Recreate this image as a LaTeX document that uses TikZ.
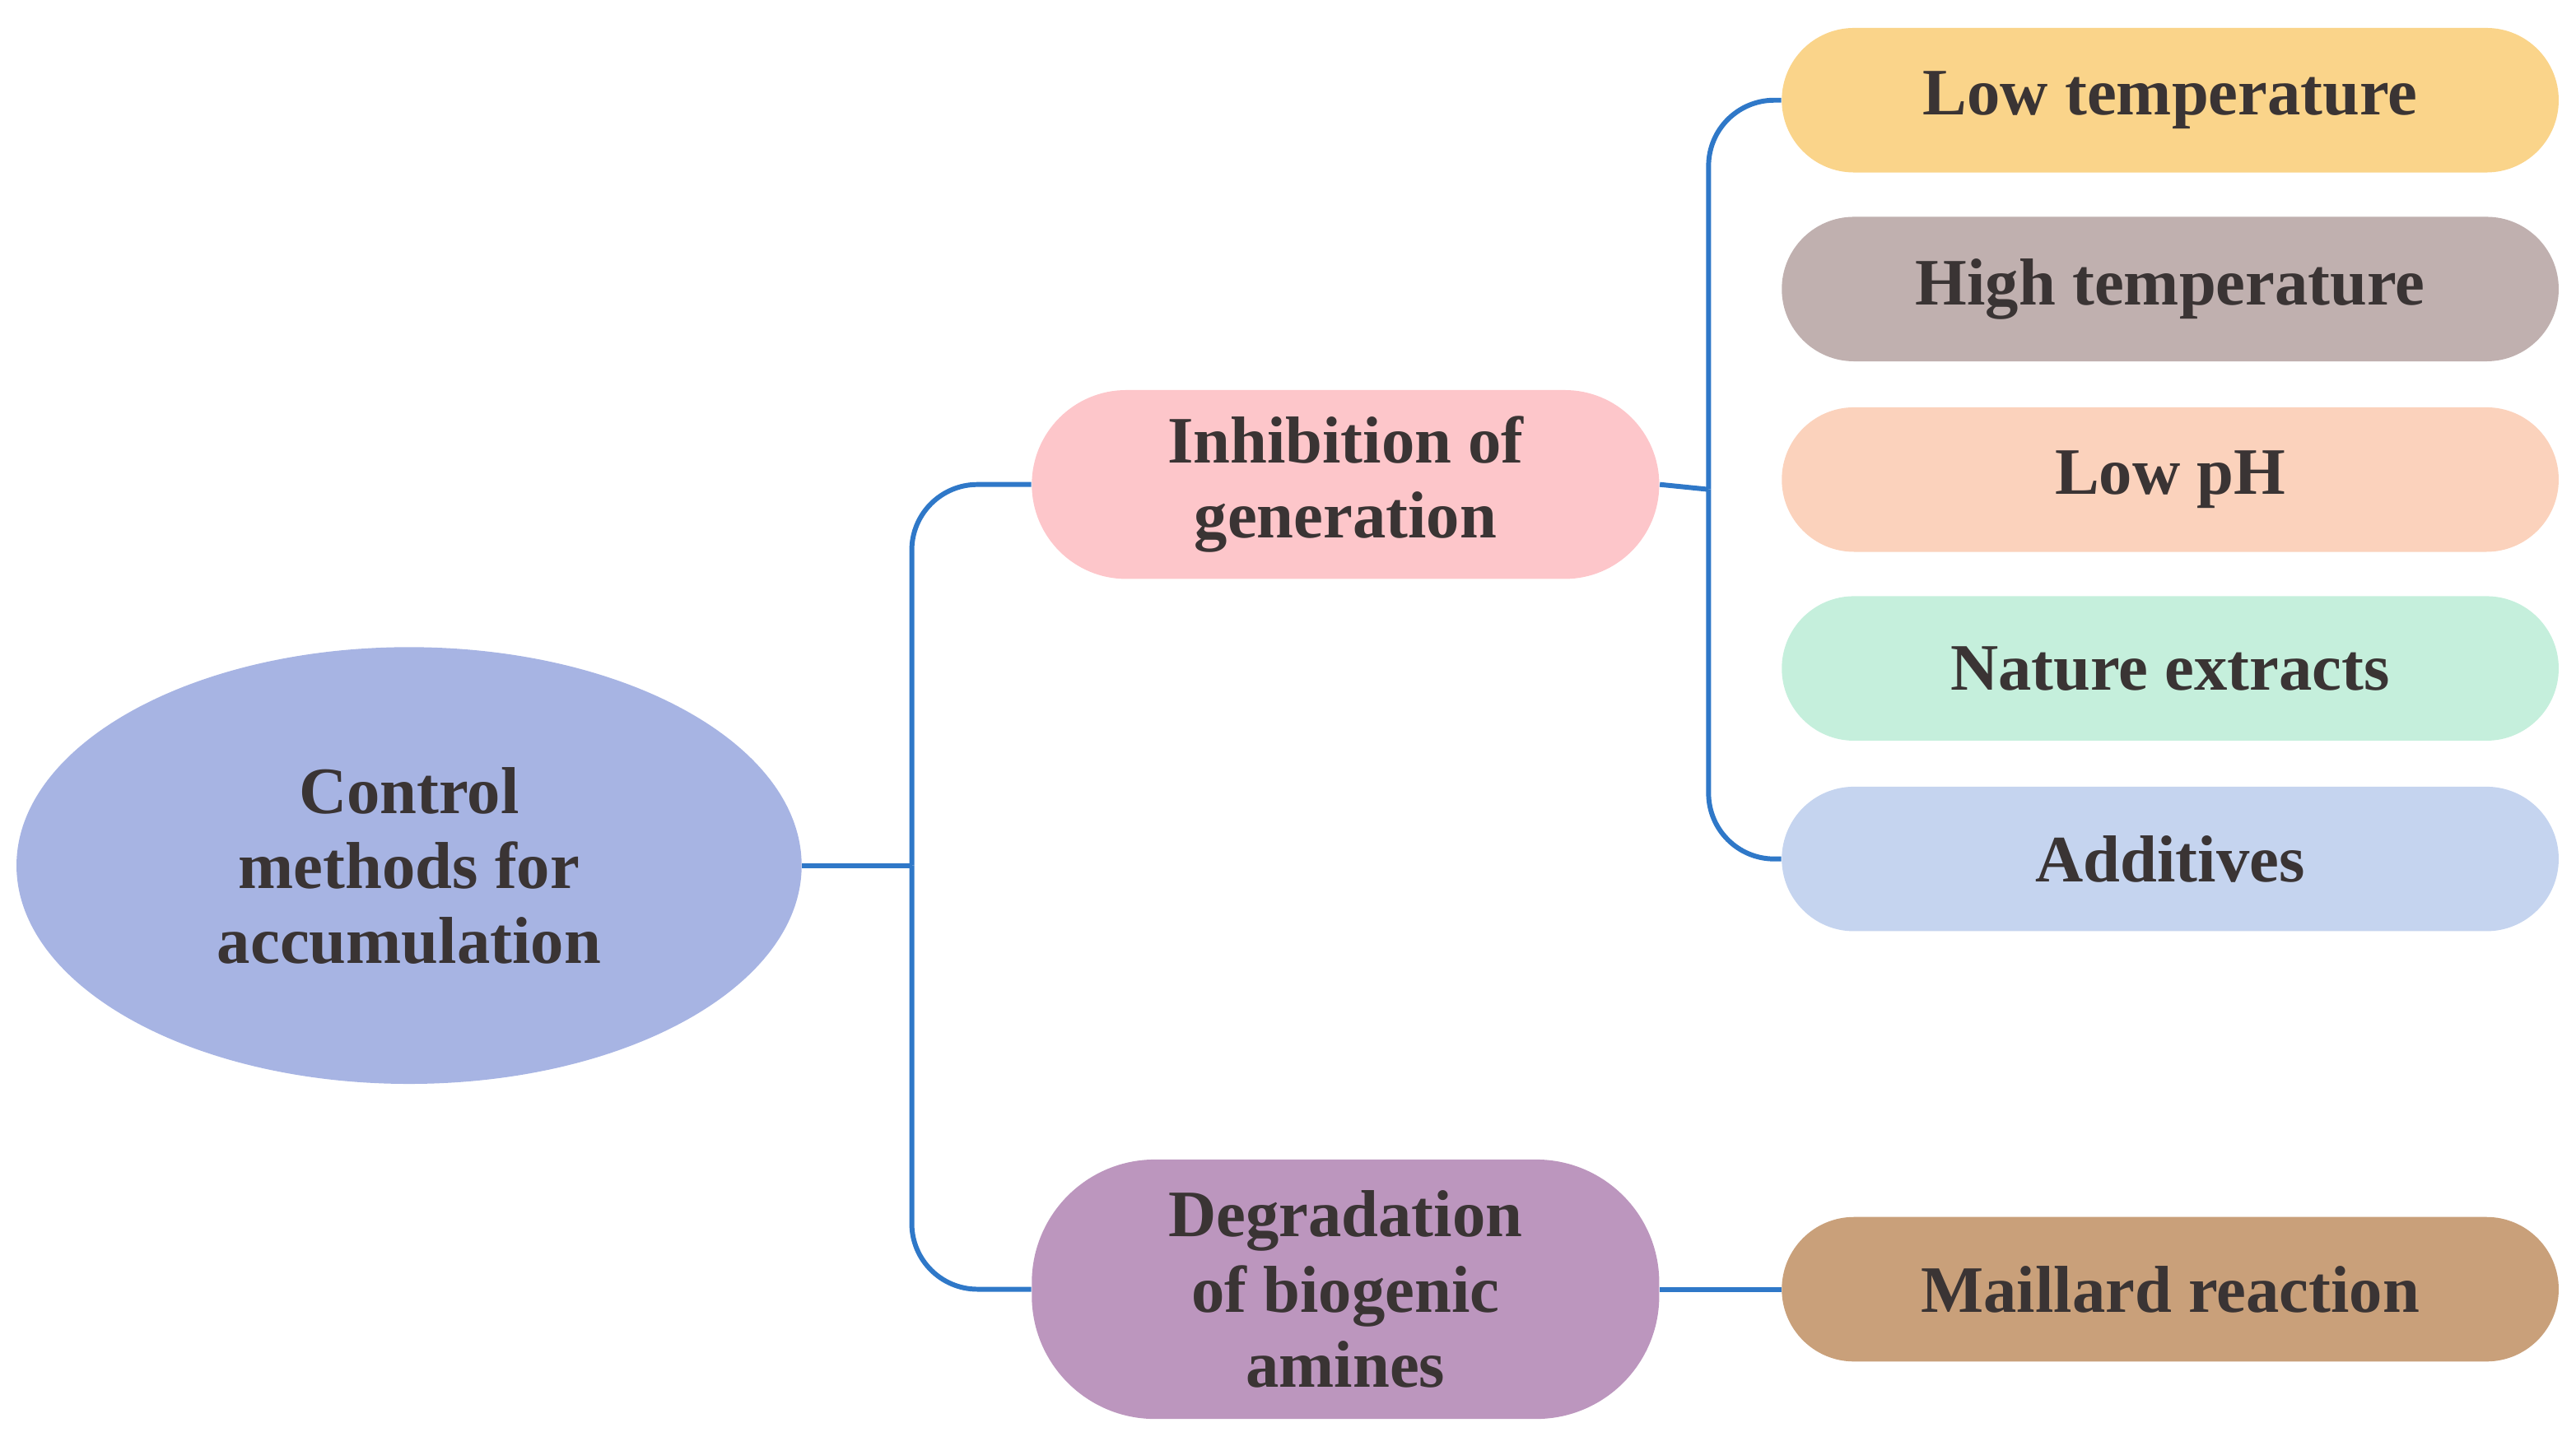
\documentclass[tikz,border=0pt]{standalone}
\usepackage{fontspec}
\setmainfont{Liberation Serif}
\usetikzlibrary{shapes.geometric}
\definecolor{mainblue}{HTML}{A7B4E3}
\definecolor{linkblue}{HTML}{2F78C8}
\definecolor{textgray}{HTML}{3A3434}
\definecolor{pinkbox}{HTML}{FDC6CA}
\definecolor{purplebox}{HTML}{BC96BE}
\definecolor{yellowbox}{HTML}{FAD48A}
\definecolor{graybox}{HTML}{C0B0AF}
\definecolor{peachbox}{HTML}{FBD2BC}
\definecolor{greenbox}{HTML}{C5EFDC}
\definecolor{bluebox}{HTML}{C5D4EF}
\definecolor{brownbox}{HTML}{C9A07A}

\begin{document}
\begin{tikzpicture}[
        x=0.02cm, y=-0.02cm,
        every node/.style={
            text=textgray,
            font=\bfseries\fontsize{23}{26}\selectfont,
            align=center,
        },
        root/.style={
            ellipse,
            fill=mainblue,
            minimum width=9.56cm,
            minimum height=5.32cm,
        },
        branch/.style={
            rectangle,
            rounded corners=1.15cm,
            minimum width=7.64cm,
            minimum height=2.3cm,
        },
        leaf/.style={
            rectangle,
            rounded corners=0.88cm,
            minimum width=9.46cm,
            minimum height=1.76cm,
        },
        link/.style={
            draw=linkblue,
            line width=1.7pt,
            rounded corners=0.8cm,
        },
    ]

    \useasboundingbox (0, 0) rectangle (1568, 880);

    \node[root] (ctrl) at (249, 527) {Control\\methods for\\accumulation};

    \node[branch, fill=pinkbox] (inhib) at (819, 295) {Inhibition of\\generation};
    \node[branch, fill=purplebox, minimum height=3.16cm, rounded corners=1.5cm] (degr) at (819, 785) {Degradation\\of biogenic\\amines};

    \node[leaf, fill=yellowbox] (lowt) at (1321, 61) {Low temperature};
    \node[leaf, fill=graybox] (hight) at (1321, 176) {High temperature};
    \node[leaf, fill=peachbox] (lowph) at (1321, 292) {Low pH};
    \node[leaf, fill=greenbox] (natex) at (1321, 407) {Nature extracts};
    \node[leaf, fill=bluebox] (addit) at (1321, 523) {Additives};
    \node[leaf, fill=brownbox] (maill) at (1321, 785) {Maillard reaction};

    \coordinate (c1) at (555, 527);
    \coordinate (c2) at (1040, 298);

    \draw[link] (ctrl.east) -- (c1);
    \draw[link] (c1) |- (inhib.west);
    \draw[link] (c1) |- (degr.west);

    \draw[link] (inhib.east) -- (c2);
    \draw[link] (c2) |- (lowt.west);
    \draw[link] (c2) |- (addit.west);

    \draw[link] (degr.east) -- (maill.west);
\end{tikzpicture}
\end{document}
